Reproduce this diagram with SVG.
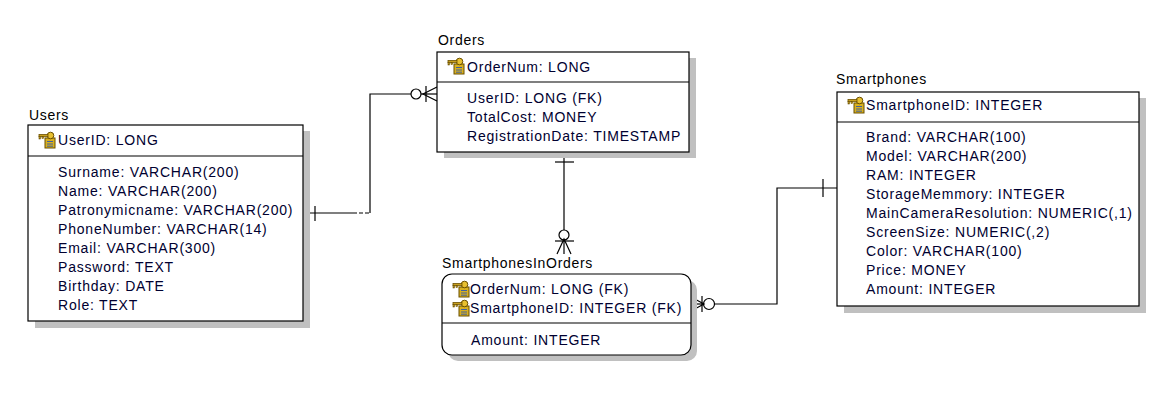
<svg xmlns="http://www.w3.org/2000/svg" width="1172" height="411" viewBox="0 0 1172 411">
<defs>
<style>
.t{font-family:"Liberation Sans",Arial,sans-serif;font-size:14px;letter-spacing:0.8px;fill:#000030}
.lbl{font-family:"Liberation Sans",Arial,sans-serif;font-size:14px;letter-spacing:0.7px;fill:#000}
.box{fill:#fff;stroke:#000;stroke-width:1.2}
.sh{fill:#c0c0c0}
.sep{stroke:#000;stroke-width:1.2}
.ln{fill:none;stroke:#000;stroke-width:1.2}
</style>
<symbol id="key" viewBox="0 0 18 18">
<rect x="7" y="7" width="10" height="10" fill="#d8b020" stroke="#6b5000" stroke-width="1"/>
<line x1="9" y1="10.5" x2="15" y2="10.5" stroke="#4060a0" stroke-width="1"/>
<line x1="9" y1="13" x2="15" y2="13" stroke="#4060a0" stroke-width="1"/>
<line x1="9" y1="15.2" x2="15" y2="15.2" stroke="#4060a0" stroke-width="1"/>
<circle cx="12.5" cy="4.5" r="3.3" fill="#e8c030" stroke="#6b5000" stroke-width="1"/>
<rect x="1" y="3.5" width="9" height="2.2" fill="#c8a020" stroke="#6b5000" stroke-width="0.8"/>
<rect x="1" y="5.5" width="1.5" height="2.5" fill="#c8a020" stroke="#6b5000" stroke-width="0.6"/>
<rect x="4" y="5.5" width="1.5" height="2" fill="#c8a020" stroke="#6b5000" stroke-width="0.6"/>
</symbol>
</defs>
<rect width="1172" height="411" fill="#fff"/>

<g id="connectors">
<!-- Users - Orders -->
<path class="ln" d="M303 213 H353"/>
<path class="ln" d="M353 213 H370" stroke-dasharray="4 2"/>
<path class="ln" d="M370 213 V94 H411"/>
<line class="ln" x1="315" y1="206" x2="315" y2="221"/>
<circle class="ln" cx="416" cy="94" r="5"/>
<line class="ln" x1="421" y1="94" x2="437" y2="94"/>
<line class="ln" x1="426" y1="86" x2="426" y2="102"/>
<path class="ln" d="M437 87 L423 94 L437 101"/>
<!-- Orders - SmartphonesInOrders -->
<line class="ln" x1="564" y1="152" x2="564" y2="230"/>
<line class="ln" x1="555" y1="162" x2="574" y2="162"/>
<circle class="ln" cx="564" cy="235" r="5"/>
<line class="ln" x1="564" y1="240" x2="564" y2="254"/>
<line class="ln" x1="555" y1="241" x2="574" y2="241"/>
<path class="ln" d="M557 254 L564 239 L571 254"/>
<!-- SmartphonesInOrders - Smartphones -->
<path class="ln" d="M714 304 H777 V188 H837"/>
<line class="ln" x1="691" y1="304" x2="704" y2="304"/>
<path class="ln" d="M691 297 L704 304 L691 311"/>
<line class="ln" x1="702" y1="296" x2="702" y2="312"/>
<circle class="ln" cx="709" cy="304" r="5.5"/>
<line class="ln" x1="823" y1="179" x2="823" y2="197"/>
</g>

<g id="users">
<text class="lbl" x="29" y="120">Users</text>
<rect class="sh" x="35" y="131" width="275" height="197"/>
<rect class="box" x="28" y="125" width="275" height="196"/>
<line class="sep" x1="28" y1="156" x2="303" y2="156"/>
<use href="#key" x="38" y="131" width="18" height="18"/>
<text class="t" x="58" y="145">UserID: LONG</text>
<text class="t" x="58" y="177">Surname: VARCHAR(200)</text>
<text class="t" x="58" y="196">Name: VARCHAR(200)</text>
<text class="t" x="58" y="215">Patronymicname: VARCHAR(200)</text>
<text class="t" x="58" y="234">PhoneNumber: VARCHAR(14)</text>
<text class="t" x="58" y="253">Email: VARCHAR(300)</text>
<text class="t" x="58" y="272">Password: TEXT</text>
<text class="t" x="58" y="291">Birthday: DATE</text>
<text class="t" x="58" y="310">Role: TEXT</text>
</g>

<g id="orders">
<text class="lbl" x="438" y="45">Orders</text>
<rect class="sh" x="444" y="58" width="252" height="100"/>
<rect class="box" x="437" y="52" width="252" height="100"/>
<line class="sep" x1="437" y1="82" x2="689" y2="82"/>
<use href="#key" x="447" y="57" width="18" height="18"/>
<text class="t" x="467" y="72">OrderNum: LONG</text>
<text class="t" x="467" y="103">UserID: LONG (FK)</text>
<text class="t" x="467" y="122">TotalCost: MONEY</text>
<text class="t" x="467" y="141">RegistrationDate: TIMESTAMP</text>
</g>

<g id="smartphonesinorders">
<text class="lbl" x="442" y="268">SmartphonesInOrders</text>
<rect class="sh" x="448" y="280" width="249" height="81" rx="10"/>
<rect class="box" x="442" y="274" width="249" height="81" rx="10"/>
<line class="sep" x1="442" y1="323" x2="691" y2="323"/>
<use href="#key" x="452" y="280" width="18" height="18"/>
<use href="#key" x="452" y="299" width="18" height="18"/>
<text class="t" x="470" y="294">OrderNum: LONG (FK)</text>
<text class="t" x="470" y="313">SmartphoneID: INTEGER (FK)</text>
<text class="t" x="471" y="345">Amount: INTEGER</text>
</g>

<g id="smartphones">
<text class="lbl" x="836" y="84">Smartphones</text>
<rect class="sh" x="844" y="98" width="302" height="215"/>
<rect class="box" x="837" y="92" width="302" height="214"/>
<line class="sep" x1="837" y1="122" x2="1139" y2="122"/>
<use href="#key" x="847" y="96" width="18" height="18"/>
<text class="t" x="866" y="110">SmartphoneID: INTEGER</text>
<text class="t" x="866" y="142">Brand: VARCHAR(100)</text>
<text class="t" x="866" y="161">Model: VARCHAR(200)</text>
<text class="t" x="866" y="180">RAM: INTEGER</text>
<text class="t" x="866" y="199">StorageMemmory: INTEGER</text>
<text class="t" x="866" y="218">MainCameraResolution: NUMERIC(,1)</text>
<text class="t" x="866" y="237">ScreenSize: NUMERIC(,2)</text>
<text class="t" x="866" y="256">Color: VARCHAR(100)</text>
<text class="t" x="866" y="275">Price: MONEY</text>
<text class="t" x="866" y="294">Amount: INTEGER</text>
</g>
</svg>
